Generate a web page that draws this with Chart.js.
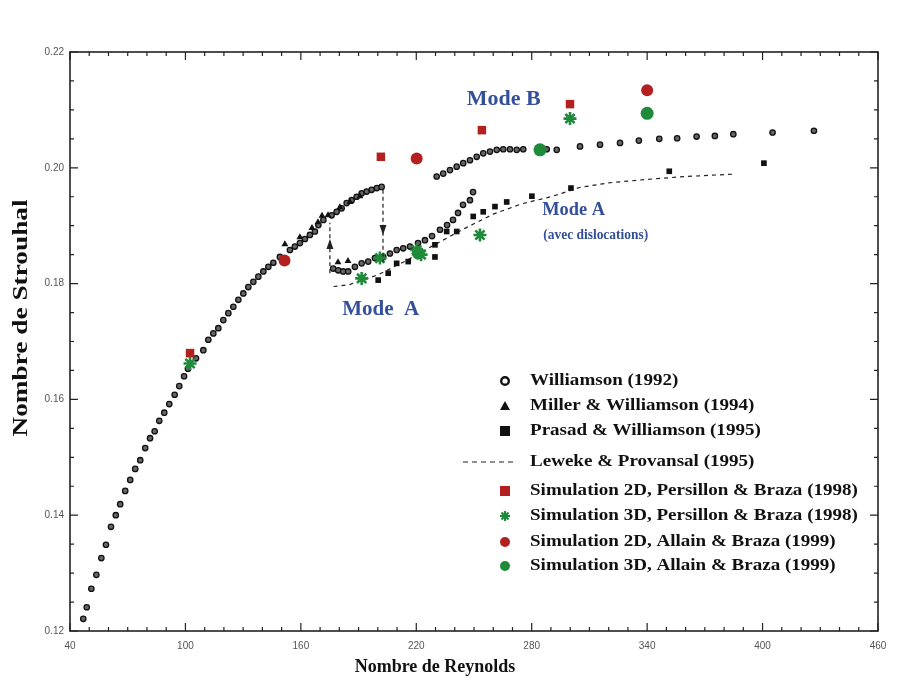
<!DOCTYPE html>
<html>
<head>
<meta charset="utf-8">
<script src="https://cdn.jsdelivr.net/npm/chart.js@4.4.1/dist/chart.umd.min.js"></script>
<style>
  html, body { margin: 0; padding: 0; background: #fff; }
  #wrap { width: 902px; height: 684px; }
</style>
</head>
<body>
<div id="wrap"><canvas id="chart" width="902" height="684"></canvas></div>
<script>
// ============= DATA (Reynolds, Strouhal) =============
const williamson = [
  [46.9,0.1221],[48.7,0.1241],[51.1,0.1273],[53.7,0.1297],[56.3,0.1326],[58.7,0.1349],[61.3,0.1380],
  [63.8,0.1400],[66.1,0.1419],[68.7,0.1442],[71.3,0.1461],[73.9,0.1480],[76.5,0.1495],[79.1,0.1516],
  [81.6,0.1533],[84.0,0.1545],[86.4,0.1563],[89.0,0.1577],[91.6,0.1592],[94.4,0.1608],[96.8,0.1623],
  [99.3,0.1640],[101.3,0.1653],[105.5,0.1671],[109.3,0.1685],[111.9,0.1703],[114.5,0.1714],[117.1,0.1723],
  [119.7,0.1737],[122.3,0.1749],[124.9,0.1760],[127.5,0.1772],[130.1,0.1783],[132.7,0.1794],[135.3,0.1803],
  [137.9,0.1812],[140.5,0.1821],[143.1,0.1829],[145.7,0.1836],[149.1,0.1846],[154.3,0.1858],[156.9,0.1864],
  [159.5,0.1870],[162.1,0.1877],[164.7,0.1884],[167.3,0.1890],[169.1,0.1901],[171.7,0.1910],[176.0,0.1918],
  [178.6,0.1924],[181.2,0.1930],[183.8,0.1939],[186.4,0.1944],[189.0,0.1950],[191.6,0.1956],[194.2,0.1959],
  [196.8,0.1962],[199.5,0.1965],[202.0,0.1967],
  // mode A branch
  [176.8,0.1826],[179.4,0.1823],[182.0,0.1821],[184.6,0.1821],[188.1,0.1829],[191.6,0.1835],[195.0,0.1838],
  [198.5,0.1844],[202.8,0.1846],[206.3,0.1852],[209.8,0.1858],[213.2,0.1861],[216.7,0.1864],[220.9,0.1870],
  [224.5,0.1875],[228.2,0.1882],[232.3,0.1893],[236.0,0.1901],[239.1,0.1910],[241.7,0.1922],[244.3,0.1936],
  [247.9,0.1944],[249.5,0.1958],
  // mode B branch
  [230.6,0.1985],[234.0,0.1990],[237.5,0.1996],[241.0,0.2002],[244.4,0.2008],[247.9,0.2013],[251.4,0.2019],
  [254.8,0.2025],[258.3,0.2028],[261.8,0.2031],[265.2,0.2032],[268.7,0.2032],[272.2,0.2031],[275.6,0.2032],
  [287.8,0.2032],[293.0,0.2031],[305.1,0.2037],[315.5,0.2040],[325.9,0.2043],[335.7,0.2047],[346.3,0.2050],
  [355.6,0.2051],[365.7,0.2054],[375.2,0.2055],[384.8,0.2058],[405.2,0.2061],[426.7,0.2064]
];
const miller = [
  [151.7,0.1868],[159.5,0.1880],[165.8,0.1896],[168.9,0.1906],[171.0,0.1917],[174.1,0.1918],
  [180.3,0.1932],[185.5,0.1941],[190.7,0.1951],[179.3,0.1837],[184.5,0.1839]
];
const prasad = [
  [200.2,0.1806],[205.4,0.1818],[209.8,0.1835],[215.8,0.1838],[220.2,0.1858],[229.7,0.1846],[229.7,0.1867],
  [235.8,0.1890],[241.0,0.1890],[249.6,0.1916],[254.8,0.1924],[260.9,0.1933],[267.0,0.1941],[280.1,0.1951],
  [300.4,0.1965],[351.5,0.1994],[400.7,0.2008]
];
const leweke = [
  [177,0.1795],[185,0.1798],[200,0.1815],[215,0.1840],[230,0.1868],[245,0.1895],[260,0.1920],[275,0.1938],
  [290,0.1950],[305,0.1966],[320,0.1974],[340,0.1980],[360,0.1985],[385,0.1989]
];
const sim2dPersillon = [[102.4,0.1680],[201.6,0.2019],[254.1,0.2065],[299.9,0.2110]];
const sim3dPersillon = [[102.4,0.1662],[191.6,0.1809],[201.1,0.1844],[220.2,0.1858],[222.5,0.1850],[253.1,0.1884],[299.9,0.2085]];
const sim2dAllain = [[151.5,0.1840],[220.2,0.2016],[340.0,0.2134]];
const sim3dAllain = [[221.0,0.1853],[284.3,0.2031],[340.0,0.2094]];

// hysteresis arrows (Re, St start -> end)
const arrowDown = [[202.7,0.1962],[202.7,0.1837]];
const arrowUp = [[175.1,0.1818],[175.1,0.1905]];

const xTicks = [40, 100, 160, 220, 280, 340, 400, 460];
const yTicks = [0.12, 0.14, 0.16, 0.18, 0.20, 0.22];

const RED = '#b3201f';
const GREEN = '#1f8a3a';
const BLUE = '#34509a';
const SERIF = '"Liberation Serif", "DejaVu Serif", serif';

const toXY = arr => arr.map(p => ({ x: p[0], y: p[1] }));

// text stretched horizontally (the scanned figure is wider than the font)
function wideText(ctx, text, x, y, sx){
  ctx.save();
  ctx.translate(x, y);
  ctx.scale(sx, 1);
  ctx.fillText(text, 0, 0);
  ctx.restore();
}

// ============= DECORATION PLUGIN =============
function marker(ctx, type, x, y){
  ctx.save();
  switch (type) {
    case 'openCircle':
      ctx.strokeStyle = '#111'; ctx.lineWidth = 2.4;
      ctx.beginPath(); ctx.arc(x, y, 3.8, 0, Math.PI * 2); ctx.stroke(); break;
    case 'triangle':
      ctx.fillStyle = '#111';
      ctx.beginPath(); ctx.moveTo(x, y - 5); ctx.lineTo(x + 5, y + 4); ctx.lineTo(x - 5, y + 4); ctx.closePath(); ctx.fill(); break;
    case 'square':
      ctx.fillStyle = '#111'; ctx.fillRect(x - 5, y - 5, 10, 10); break;
    case 'dash':
      ctx.strokeStyle = '#222'; ctx.lineWidth = 1.2; ctx.setLineDash([5, 4]);
      ctx.beginPath(); ctx.moveTo(x - 42, y); ctx.lineTo(x + 8, y); ctx.stroke(); break;
    case 'redSquare':
      ctx.fillStyle = RED; ctx.fillRect(x - 5, y - 5, 10, 10); break;
    case 'greenStar':
      ctx.strokeStyle = GREEN; ctx.lineWidth = 2.2;
      for (let i = 0; i < 4; i++) {
        const a = i * Math.PI / 4;
        ctx.beginPath(); ctx.moveTo(x - 5 * Math.cos(a), y - 5 * Math.sin(a));
        ctx.lineTo(x + 5 * Math.cos(a), y + 5 * Math.sin(a)); ctx.stroke();
      }
      break;
    case 'redCircle':
      ctx.fillStyle = RED; ctx.beginPath(); ctx.arc(x, y, 5, 0, Math.PI * 2); ctx.fill(); break;
    case 'greenCircle':
      ctx.fillStyle = GREEN; ctx.beginPath(); ctx.arc(x, y, 5, 0, Math.PI * 2); ctx.fill(); break;
  }
  ctx.restore();
}

const legendRows = [
  ['openCircle', 'Williamson (1992)', 0],
  ['triangle', 'Miller & Williamson (1994)', 25],
  ['square', 'Prasad & Williamson (1995)', 50],
  ['dash', 'Leweke & Provansal (1995)', 81],
  ['redSquare', 'Simulation 2D, Persillon & Braza (1998)', 110],
  ['greenStar', 'Simulation 3D, Persillon & Braza (1998)', 135],
  ['redCircle', 'Simulation 2D, Allain & Braza (1999)', 161],
  ['greenCircle', 'Simulation 3D, Allain & Braza (1999)', 185]
];

const decor = {
  id: 'decor',
  afterDatasetsDraw(chart){
    const { ctx, scales: { x, y } } = chart;
    ctx.save();
    ctx.strokeStyle = '#222';
    ctx.fillStyle = '#222';
    ctx.lineWidth = 1.2;
    [[arrowDown, 1], [arrowUp, -1]].forEach(([a, dir]) => {
      const px = x.getPixelForValue(a[0][0]);
      const y0 = y.getPixelForValue(a[0][1]);
      const y1 = y.getPixelForValue(a[1][1]);
      ctx.setLineDash([4, 3]);
      ctx.beginPath(); ctx.moveTo(px, y0); ctx.lineTo(px, y1); ctx.stroke();
      ctx.setLineDash([]);
      const ym = (y0 + y1) / 2 + dir * 4;
      ctx.beginPath();
      ctx.moveTo(px, ym + dir * 5);
      ctx.lineTo(px - 3.5, ym - dir * 5);
      ctx.lineTo(px + 3.5, ym - dir * 5);
      ctx.closePath(); ctx.fill();
    });
    ctx.restore();
  },
  afterDraw(chart){
    const { ctx, chartArea: ca, scales: { x, y } } = chart;
    ctx.save();

    // frame
    ctx.strokeStyle = '#222';
    ctx.lineWidth = 1.6;
    ctx.strokeRect(ca.left, ca.top, ca.right - ca.left, ca.bottom - ca.top);

    // inward ticks, major + minor
    ctx.lineWidth = 1.2;
    for (let v = 40; v <= 460; v += 10) {
      const px = x.getPixelForValue(v);
      const len = (v - 40) % 60 === 0 ? 8 : 4;
      ctx.beginPath();
      ctx.moveTo(px, ca.bottom); ctx.lineTo(px, ca.bottom - len);
      ctx.moveTo(px, ca.top); ctx.lineTo(px, ca.top + len);
      ctx.stroke();
    }
    for (let i = 0; i <= 20; i++) {
      const v = 0.12 + i * 0.005;
      const py = y.getPixelForValue(v);
      const len = i % 4 === 0 ? 8 : 4;
      ctx.beginPath();
      ctx.moveTo(ca.left, py); ctx.lineTo(ca.left + len, py);
      ctx.moveTo(ca.right, py); ctx.lineTo(ca.right - len, py);
      ctx.stroke();
    }

    // axis titles
    ctx.fillStyle = '#111';
    ctx.textAlign = 'center';
    ctx.textBaseline = 'middle';
    ctx.font = 'bold 18px ' + SERIF;
    ctx.fillText('Nombre de Reynolds', 435, 667);
    ctx.save();
    ctx.translate(22, 318);
    ctx.rotate(-Math.PI / 2);
    ctx.font = 'bold 21px ' + SERIF;
    ctx.scale(1.3, 1);
    ctx.fillText('Nombre de Strouhal', 0, 0);
    ctx.restore();

    // annotations
    ctx.fillStyle = BLUE;
    ctx.font = 'bold 20px ' + SERIF;
    wideText(ctx, 'Mode B', x.getPixelForValue(265.5), y.getPixelForValue(0.2117), 1.1);
    wideText(ctx, 'Mode  A', x.getPixelForValue(201.5), y.getPixelForValue(0.1754), 1.05);
    ctx.textAlign = 'left';
    ctx.font = 'bold 18px ' + SERIF;
    wideText(ctx, 'Mode A', x.getPixelForValue(285.5), y.getPixelForValue(0.1927), 1.02);
    ctx.font = 'bold 14px ' + SERIF;
    wideText(ctx, '(avec dislocations)', x.getPixelForValue(286), y.getPixelForValue(0.1884), 0.96);

    // legend
    const lx = 505, ly = 381;
    ctx.font = 'bold 17px ' + SERIF;
    legendRows.forEach(([type, text, dy]) => {
      marker(ctx, type, lx, ly + dy);
      ctx.fillStyle = '#111';
      wideText(ctx, text, lx + 25, ly + dy, 1.12);
    });

    ctx.restore();
  }
};

// ============= CHART =============
const tickFont = { family: '"Liberation Sans", Arial, sans-serif', size: 10 };

new Chart(document.getElementById('chart'), {
  type: 'scatter',
  data: {
    datasets: [
      { label: 'Simulation 2D, Persillon & Braza (1998)', data: toXY(sim2dPersillon), pointStyle: 'rect',
        pointRadius: 6, backgroundColor: RED, borderColor: RED, borderWidth: 0, order: 0 },
      { label: 'Simulation 3D, Persillon & Braza (1998)', data: toXY(sim3dPersillon), pointStyle: 'star',
        pointRadius: 6.5, backgroundColor: GREEN, borderColor: GREEN, borderWidth: 2.6, order: 0 },
      { label: 'Simulation 2D, Allain & Braza (1999)', data: toXY(sim2dAllain), pointStyle: 'circle',
        pointRadius: 6, backgroundColor: RED, borderColor: RED, borderWidth: 0, order: 0 },
      { label: 'Simulation 3D, Allain & Braza (1999)', data: toXY(sim3dAllain), pointStyle: 'circle',
        pointRadius: 6.5, backgroundColor: GREEN, borderColor: GREEN, borderWidth: 0, order: 0 },
      { label: 'Prasad & Williamson (1995)', data: toXY(prasad), pointStyle: 'rect',
        pointRadius: 4, backgroundColor: '#111', borderColor: '#111', borderWidth: 0, order: 1 },
      { label: 'Miller & Williamson (1994)', data: toXY(miller), pointStyle: 'triangle',
        pointRadius: 4, backgroundColor: '#111', borderColor: '#111', borderWidth: 0, order: 2 },
      { label: 'Williamson (1992)', data: toXY(williamson), pointStyle: 'circle',
        pointRadius: 2.7, backgroundColor: '#666', borderColor: '#111', borderWidth: 1.3, order: 3 },
      { label: 'Leweke & Provansal (1995)', data: toXY(leweke), showLine: true, pointRadius: 0,
        borderColor: '#222', borderWidth: 1.2, borderDash: [4, 4], fill: false, order: 4 }
    ]
  },
  options: {
    responsive: false,
    animation: false,
    events: [],
    layout: { padding: { top: 52, right: 24, left: 0, bottom: 0 } },
    plugins: { legend: { display: false }, tooltip: { enabled: false } },
    scales: {
      x: {
        type: 'linear', min: 40, max: 460,
        afterBuildTicks: s => { s.ticks = xTicks.map(v => ({ value: v })); },
        afterFit: s => { s.height = 53; },
        ticks: { padding: 9, color: '#555', font: tickFont, maxRotation: 0, autoSkip: false },
        grid: { display: false, drawTicks: false },
        border: { display: false }
      },
      y: {
        min: 0.12, max: 0.22,
        afterBuildTicks: s => { s.ticks = yTicks.map(v => ({ value: v })); },
        afterFit: s => { s.width = 70; },
        ticks: { padding: 6, color: '#555', font: tickFont, callback: v => v.toFixed(2) },
        grid: { display: false, drawTicks: false },
        border: { display: false }
      }
    }
  },
  plugins: [decor]
});
</script>
</body>
</html>
